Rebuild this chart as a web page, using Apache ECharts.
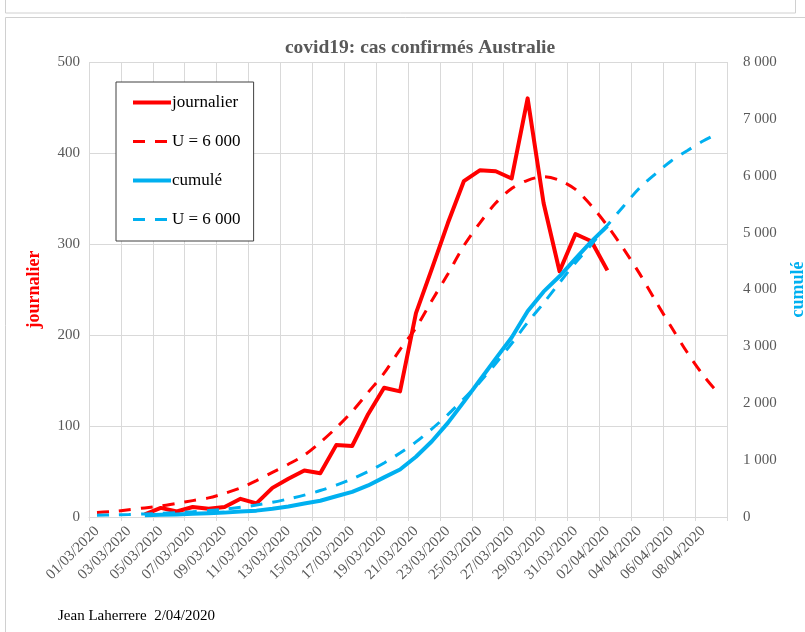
<!DOCTYPE html>
<html>
<head>
<meta charset="utf-8">
<script src="https://cdn.jsdelivr.net/npm/echarts@6/dist/echarts.min.js"></script>
<style>
  html, body { margin: 0; padding: 0; background: #ffffff; }
  #chart { width: 805px; height: 632px; }
</style>
</head>
<body>
<div id="chart"></div>
<script>
// Dates, 1 March to 9 April 2020
const dates = [
  '01/03/2020','02/03/2020','03/03/2020','04/03/2020','05/03/2020','06/03/2020','07/03/2020','08/03/2020',
  '09/03/2020','10/03/2020','11/03/2020','12/03/2020','13/03/2020','14/03/2020','15/03/2020','16/03/2020',
  '17/03/2020','18/03/2020','19/03/2020','20/03/2020','21/03/2020','22/03/2020','23/03/2020','24/03/2020',
  '25/03/2020','26/03/2020','27/03/2020','28/03/2020','29/03/2020','30/03/2020','31/03/2020','01/04/2020',
  '02/04/2020','03/04/2020','04/04/2020','05/04/2020','06/04/2020','07/04/2020','08/04/2020','09/04/2020'
];

// Daily confirmed cases
const journalier = [
  null, null, null, 3, 10, 6, 11, 9, 11, 20, 15, 32, 42, 51, 48, 79, 78, 113, 142, 138,
  224, 273, 323, 369, 381, 380, 372, 460, 345, 270, 311, 303, 271, null, null, null, null, null, null, null
];

// Daily cases of the logistic model, U = 6 000
const journalierModele = [
  5, 6, 8, 10, 12, 15, 18, 21, 26, 32, 40, 49, 58, 68, 82, 98, 116, 137, 158, 184,
  208, 238, 267, 298, 323, 345, 361, 370, 374, 370, 360, 342, 320, 295, 268, 238, 209, 181, 156, 135
];

// Cumulative confirmed cases
const cumule = [
  null, null, null, 30, 40, 46, 57, 66, 77, 97, 112, 144, 186, 237, 285, 364, 442, 555, 697, 835,
  1059, 1332, 1655, 2024, 2405, 2785, 3157, 3617, 3962, 4232, 4543, 4846, 5117, null, null, null, null, null, null, null
];

// Cumulative cases of the logistic model, U = 6 000
const cumuleModele = [
  30, 36, 44, 54, 64, 78, 94, 114, 138, 170, 210, 258, 318, 385, 465, 560, 670, 800, 950, 1125,
  1320, 1550, 1800, 2080, 2370, 2700, 3050, 3420, 3760, 4120, 4470, 4790, 5130, 5460, 5780, 6030, 6260, 6440, 6610, 6750
];

const leftTicks = { min: 0, max: 500, interval: 100 };
const rightTicks = { min: 0, max: 8000, interval: 1000 };

const RED = '#ff0000';
const BLUE = '#00b0f0';
const GRID = '#d9d9d9';
const TXT = '#595959';
const SERIF = '"Liberation Serif", "Times New Roman", serif';
const DASH = [12, 10];

function milliers(v) {
  return String(v).replace(/\B(?=(\d{3})+(?!\d))/g, ' ');
}

const chart = echarts.init(document.getElementById('chart'), null, { renderer: 'canvas' });

chart.setOption({
  animation: false,
  backgroundColor: '#ffffff',
  textStyle: { fontFamily: SERIF },
  title: {
    text: 'covid19: cas confirmés Australie',
    left: 415,
    top: 33,
    textAlign: 'center',
    textStyle: { fontFamily: SERIF, fontWeight: 'bold', fontSize: 19.5, color: TXT }
  },
  legend: {
    orient: 'vertical',
    left: 116,
    top: 82,
    padding: [12, 13, 13, 15],
    itemWidth: 38,
    itemHeight: 14,
    itemGap: 22,
    backgroundColor: '#ffffff',
    borderColor: '#404040',
    borderWidth: 1,
    borderRadius: 0,
    itemStyle: { opacity: 0, borderWidth: 0 },
    textStyle: { fontFamily: SERIF, fontSize: 17, color: '#000000', padding: [0, 0, 0, -4] },
    data: [
      { name: 'journalier', lineStyle: { width: 4 } },
      { name: 'U = 6 000', lineStyle: { width: 3, type: DASH } },
      { name: 'cumulé', lineStyle: { width: 4 } },
      { name: 'U = 6\u00a0000', lineStyle: { width: 3, type: DASH } }
    ]
  },
  grid: { left: 89, right: 78, top: 62, bottom: 115, containLabel: false, outerBoundsMode: 'none' },
  xAxis: {
    type: 'category',
    data: dates,
    boundaryGap: true,
    axisLine: { show: true, lineStyle: { color: GRID, width: 1 } },
    axisTick: { show: true, interval: 1, length: 4, lineStyle: { color: GRID } },
    axisLabel: {
      interval: 1,
      rotate: 45,
      margin: 12,
      color: TXT,
      fontFamily: SERIF,
      fontSize: 15
    },
    splitLine: { show: true, interval: 1, lineStyle: { color: GRID, width: 1 } }
  },
  yAxis: [
    {
      type: 'value',
      min: leftTicks.min,
      max: leftTicks.max,
      interval: leftTicks.interval,
      name: 'journalier',
      nameLocation: 'middle',
      nameRotate: 90,
      nameGap: 46,
      nameTextStyle: { color: RED, fontFamily: SERIF, fontWeight: 'bold', fontSize: 18 },
      axisLine: { show: false },
      axisTick: { show: false },
      axisLabel: { color: TXT, fontFamily: SERIF, fontSize: 15, margin: 9 },
      splitLine: { show: true, lineStyle: { color: GRID, width: 1 } }
    },
    {
      type: 'value',
      position: 'right',
      min: rightTicks.min,
      max: rightTicks.max,
      interval: rightTicks.interval,
      name: 'cumulé',
      nameLocation: 'middle',
      nameRotate: 90,
      nameGap: 62,
      nameTextStyle: { color: BLUE, fontFamily: SERIF, fontWeight: 'bold', fontSize: 18 },
      axisLine: { show: false },
      axisTick: { show: false },
      axisLabel: { color: TXT, fontFamily: SERIF, fontSize: 15, margin: 16, formatter: milliers },
      splitLine: { show: false }
    }
  ],
  series: [
    {
      name: 'journalier',
      type: 'line',
      yAxisIndex: 0,
      data: journalier,
      symbol: 'none',
      lineStyle: { color: RED, width: 4, join: 'round' },
      itemStyle: { color: RED }
    },
    {
      name: 'U = 6 000',
      type: 'line',
      yAxisIndex: 0,
      data: journalierModele,
      smooth: 0.3,
      symbol: 'none',
      lineStyle: { color: RED, width: 3, type: DASH },
      itemStyle: { color: RED }
    },
    {
      name: 'cumulé',
      type: 'line',
      yAxisIndex: 1,
      data: cumule,
      symbol: 'none',
      lineStyle: { color: BLUE, width: 4, join: 'round' },
      itemStyle: { color: BLUE }
    },
    {
      name: 'U = 6\u00a0000',
      type: 'line',
      yAxisIndex: 1,
      data: cumuleModele,
      smooth: 0.3,
      symbol: 'none',
      lineStyle: { color: BLUE, width: 3, type: DASH },
      itemStyle: { color: BLUE }
    }
  ],
  graphic: [
    // frames of the page around the chart
    { type: 'rect', shape: { x: 5.5, y: -2, width: 790, height: 15 }, style: { fill: 'none', stroke: '#d0d0d0', lineWidth: 1 }, silent: true },
    { type: 'polyline', shape: { points: [[5.5, 640], [5.5, 17.5], [810, 17.5]] }, style: { fill: 'none', stroke: '#d0d0d0', lineWidth: 1 }, silent: true },
    {
      type: 'text',
      left: 58,
      top: 609,
      style: { text: 'Jean Laherrere  2/04/2020', fill: '#000000', font: '15px ' + SERIF }
    }
  ]
});
</script>
</body>
</html>
